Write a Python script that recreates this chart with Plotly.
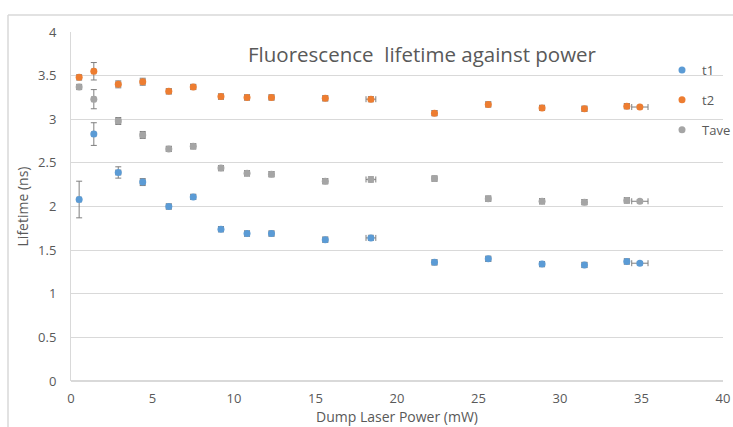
import plotly.graph_objects as go

power = [0.5, 1.4, 2.9, 4.4, 6.0, 7.5, 9.2, 10.8, 12.3, 15.6, 18.4, 22.3, 25.6, 28.9, 31.5, 34.1, 34.9]
power_err = [0.12, 0.12, 0.15, 0.15, 0.15, 0.15, 0.15, 0.15, 0.15, 0.15, 0.3, 0.15, 0.15, 0.15, 0.15, 0.15, 0.5]

t1 = [2.08, 2.83, 2.39, 2.28, 2.00, 2.11, 1.74, 1.69, 1.69, 1.62, 1.64, 1.36, 1.40, 1.34, 1.33, 1.37, 1.35]
t1_err = [0.21, 0.13, 0.065, 0.04, 0.03, 0.03, 0.03, 0.03, 0.03, 0.03, 0.03, 0.03, 0.03, 0.03, 0.03, 0.03, 0.02]

t2 = [3.48, 3.55, 3.40, 3.43, 3.32, 3.37, 3.26, 3.25, 3.25, 3.24, 3.23, 3.07, 3.17, 3.13, 3.12, 3.15, 3.14]
t2_err = [0.03, 0.10, 0.04, 0.04, 0.03, 0.03, 0.03, 0.03, 0.03, 0.03, 0.03, 0.03, 0.03, 0.03, 0.03, 0.03, 0.02]

tave = [3.37, 3.23, 2.98, 2.82, 2.66, 2.69, 2.44, 2.38, 2.37, 2.29, 2.31, 2.32, 2.09, 2.06, 2.05, 2.07, 2.06]
tave_err = [0.03, 0.11, 0.04, 0.04, 0.03, 0.03, 0.03, 0.03, 0.03, 0.03, 0.03, 0.03, 0.03, 0.03, 0.03, 0.03, 0.02]

series = [("t1", t1, t1_err, "#5b9bd5"), ("t2", t2, t2_err, "#ed7d31"), ("Tave", tave, tave_err, "#a5a5a5")]

fig = go.Figure()
for name, vals, errs, col in series:
    fig.add_trace(go.Scatter(
        x=power, y=vals, mode="markers", name=name, legendgroup=name,
        marker=dict(color=col, size=7),
        error_y=dict(type="data", array=errs, color="#7f7f7f", thickness=1, width=3),
        error_x=dict(type="data", array=power_err, color="#7f7f7f", thickness=1, width=3),
    ))

W, H = 733, 427
L, R, T, B = 71, 10, 32, 46
pw, ph = W - L - R, H - T - B

def px(x):
    return (x - L) / pw

def py(y):
    return (H - B - y) / ph

fig.update_layout(
    width=W, height=H,
    margin=dict(l=L, r=R, t=T, b=B, autoexpand=False),
    paper_bgcolor="white", plot_bgcolor="white",
    font=dict(family="Open Sans", color="#595959", size=12),
    showlegend=True,
    legend=dict(x=px(662), y=py(55), xanchor="left", yanchor="top",
                bgcolor="rgba(0,0,0,0)", font=dict(size=13, color="#595959"),
                itemwidth=30, tracegroupgap=10),
    xaxis=dict(range=[0, 40], dtick=5, showgrid=False, zeroline=False,
               showline=False, ticks="outside", ticklen=5, tickcolor="rgba(0,0,0,0)",
               tickfont=dict(size=13, color="#595959"),
               title=dict(text="Dump Laser Power (mW)", font=dict(size=14, color="#595959"), standoff=2)),
    yaxis=dict(range=[0, 4], dtick=0.5, showgrid=True, gridcolor="#d9d9d9", gridwidth=1,
               zeroline=True, zerolinecolor="#d9d9d9", zerolinewidth=2,
               showline=True, linecolor="#d9d9d9", linewidth=1,
               ticks="outside", ticklen=11, tickcolor="rgba(0,0,0,0)",
               tickfont=dict(size=13, color="#595959"),
               title=dict(text="Lifetime (ns)", font=dict(size=14, color="#595959"), standoff=6)),
    annotations=[dict(text="Fluorescence  lifetime against power", x=px(422), y=py(54),
                      xref="paper", yref="paper", showarrow=False,
                      font=dict(size=20.5, color="#595959"), xanchor="center", yanchor="middle")],
    shapes=[
        dict(type="line", xref="paper", yref="paper", x0=px(8), x1=px(8), y0=py(15), y1=py(440),
             line=dict(color="#d9d9d9", width=1.5)),
        dict(type="line", xref="paper", yref="paper", x0=px(8), x1=px(760), y0=py(15), y1=py(15),
             line=dict(color="#d9d9d9", width=1.5)),
    ],
)

fig.write_html("out.html", config={"displayModeBar": False},
               post_script="document.body.style.margin='0px';")
